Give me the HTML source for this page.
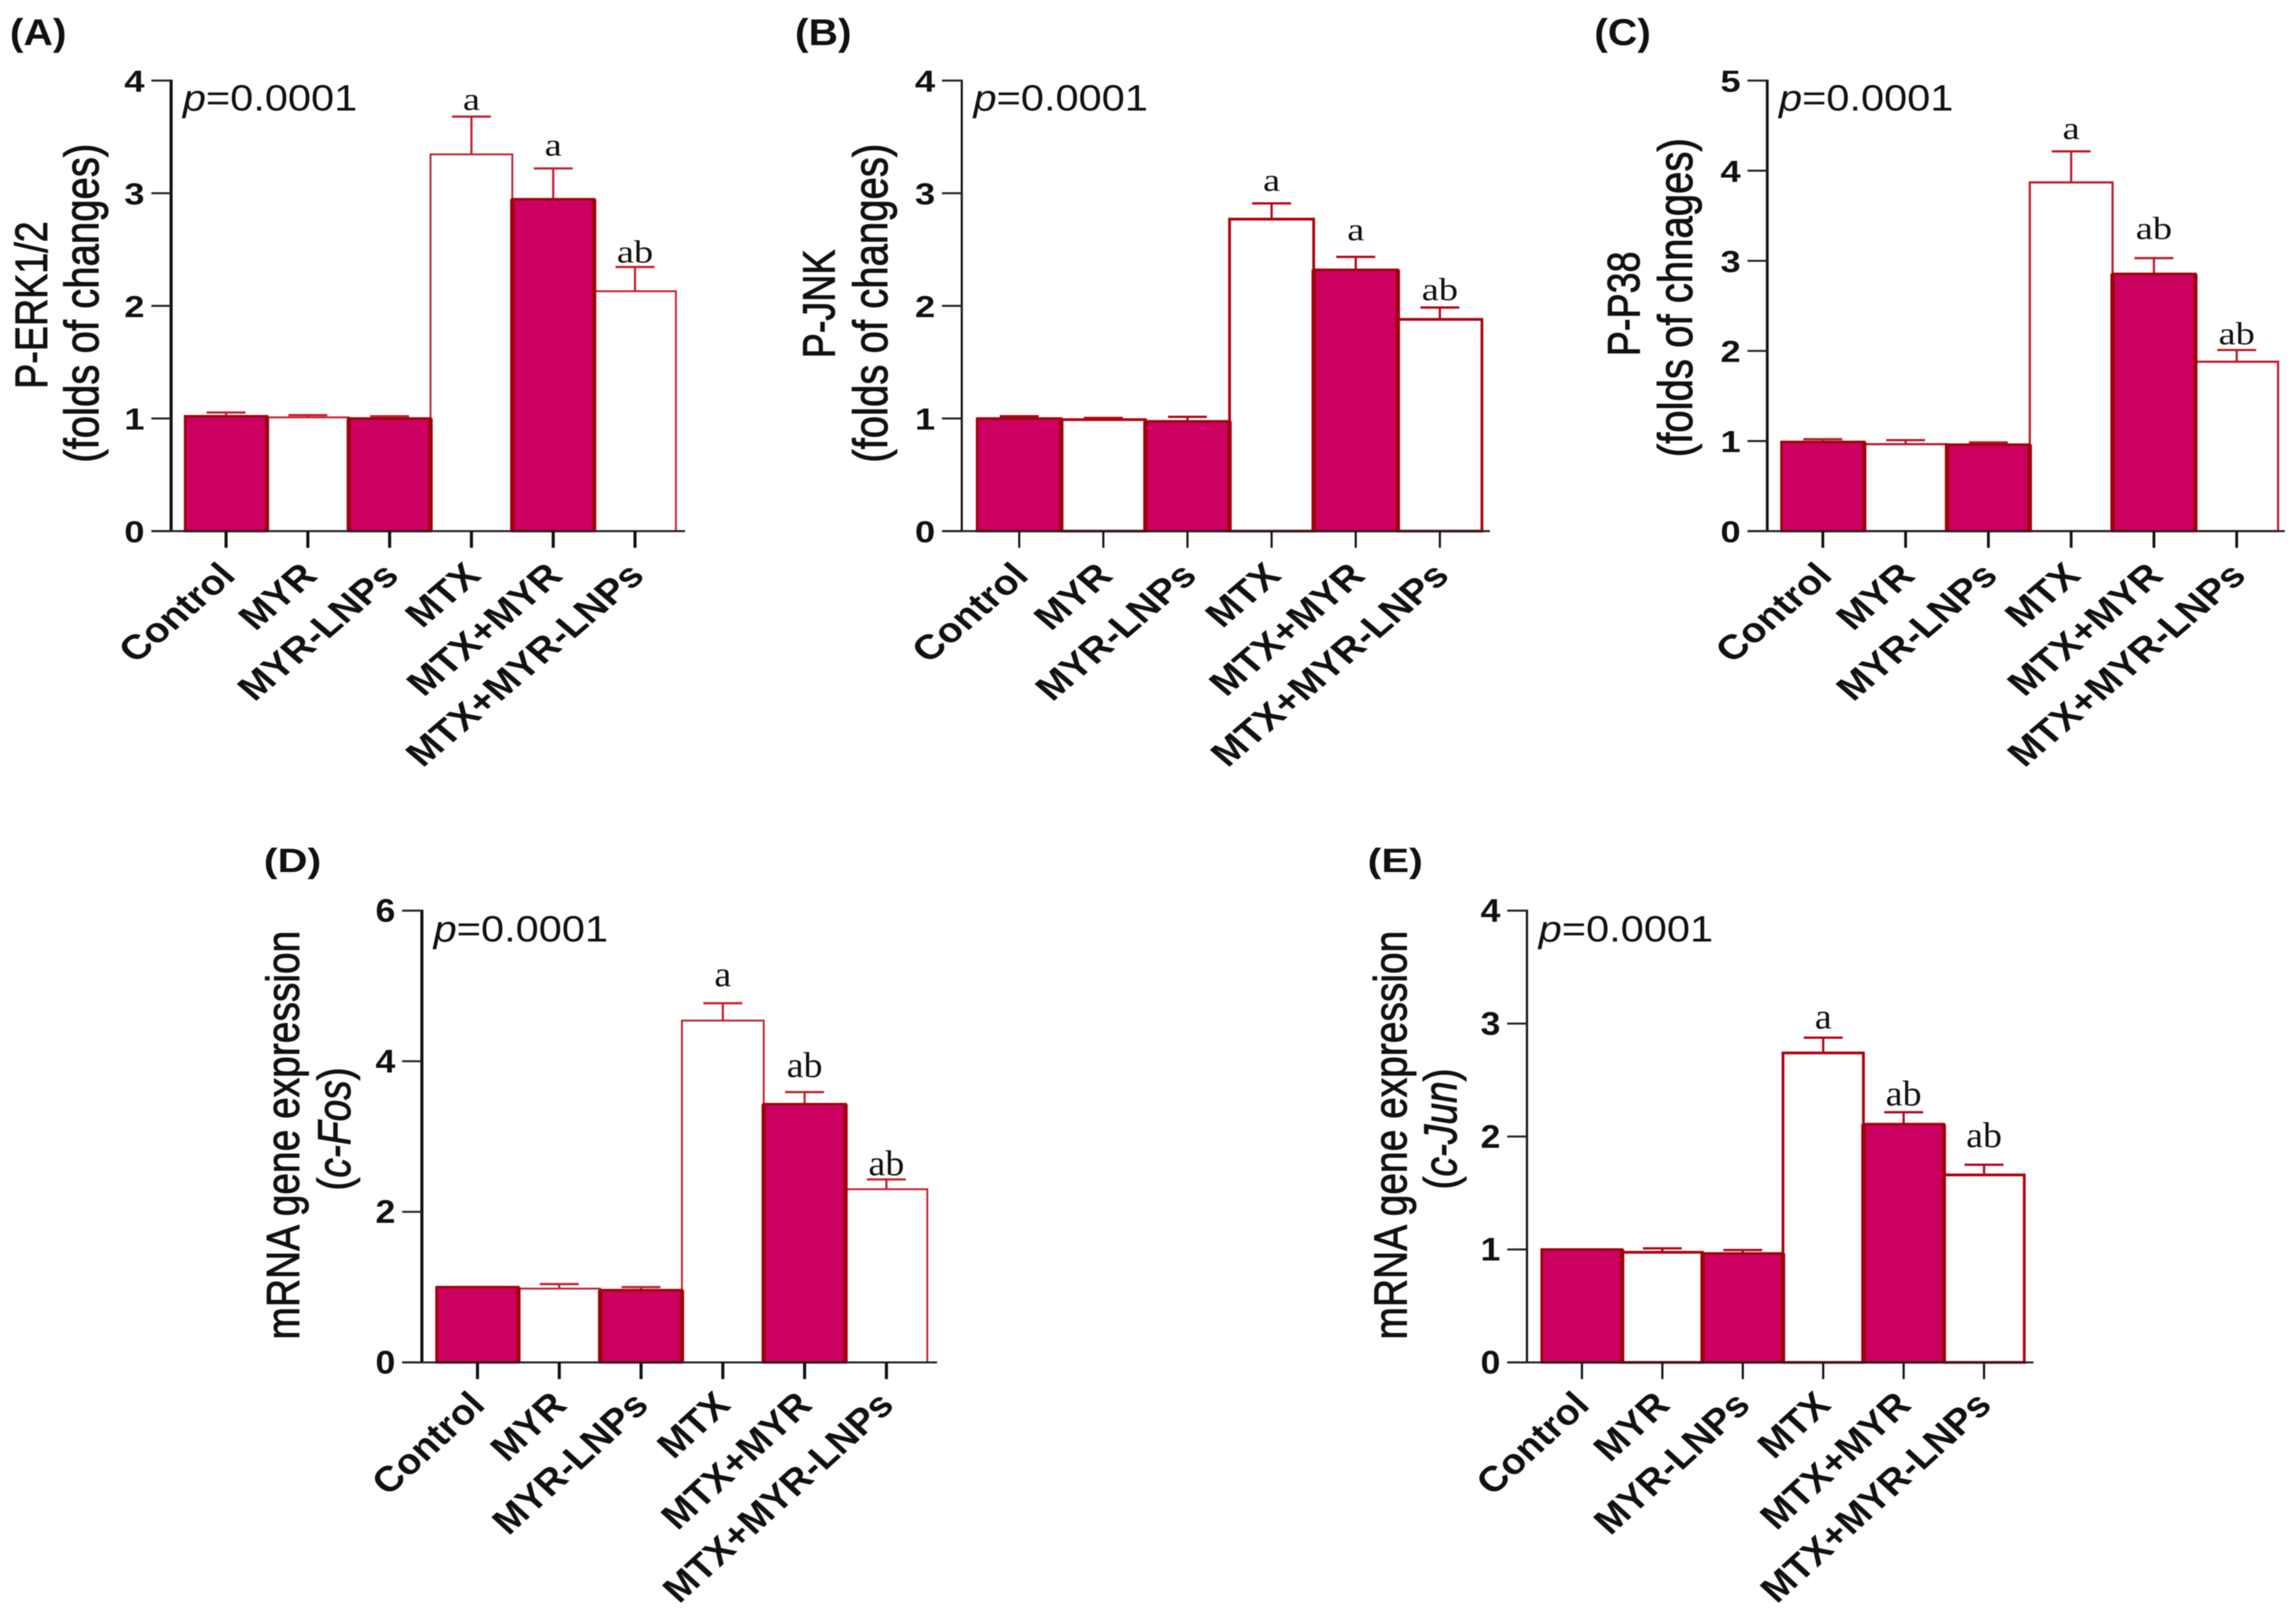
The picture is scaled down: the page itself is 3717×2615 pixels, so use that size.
<!DOCTYPE html>
<html lang="en">
<head>
<meta charset="utf-8">
<title>Five-panel bar charts</title>
<style>
html,body{margin:0;padding:0;background:#fff;width:3717px;height:2615px;overflow:hidden}
svg{display:block;font-family:"Liberation Sans",sans-serif;filter:blur(0.7px)}
</style>
</head>
<body>
<svg id="figure" xmlns="http://www.w3.org/2000/svg" width="3717" height="2615" viewBox="0 0 3717 2615">
<rect width="3717" height="2615" fill="#fff"/>
</svg>
<script>
const categories = ["Control", "MYR", "MYR-LNPs", "MTX", "MTX+MYR", "MTX+MYR-LNPs"];
const barStyles = ["filled", "open", "filled", "open", "filled", "open"];

const ticksA = [0, 1, 2, 3, 4];
const valuesA = [1.02, 1.01, 1.00, 3.345, 2.947, 2.13];
const upperA = [1.053, 1.03, 1.02, 3.68, 3.22, 2.345];
const lettersA = ["", "", "", "a", "a", "ab"];
const letterLiftA = [0, 0, 0, 0.06, 0.115, 0.04];

const ticksB = [0, 1, 2, 3, 4];
const valuesB = [1.00, 0.99, 0.975, 2.77, 2.32, 1.88];
const upperB = [1.02, 1.005, 1.015, 2.91, 2.435, 1.985];
const lettersB = ["", "", "", "a", "a", "ab"];
const letterLiftB = [0, 0, 0, 0.11, 0.148, 0.066];

const ticksC = [0, 1, 2, 3, 4, 5];
const valuesC = [0.99, 0.965, 0.96, 3.87, 2.855, 1.88];
const upperC = [1.02, 1.01, 0.985, 4.215, 3.03, 2.01];
const lettersC = ["", "", "", "a", "ab", "ab"];
const letterLiftC = [0, 0, 0, 0.137, 0.212, 0.065];

const ticksD = [0, 2, 4, 6];
const valuesD = [1.00, 0.98, 0.96, 4.54, 3.43, 2.30];
const upperD = [1.00, 1.04, 1.00, 4.77, 3.59, 2.43];
const lettersD = ["", "", "", "a", "ab", "ab"];
const letterLiftD = [0, 0, 0, 0.226, 0.20, 0.056];

const ticksE = [0, 1, 2, 3, 4];
const valuesE = [1.00, 0.975, 0.965, 2.74, 2.11, 1.66];
const upperE = [1.00, 1.01, 0.995, 2.875, 2.215, 1.75];
const lettersE = ["", "", "", "a", "ab", "ab"];
const letterLiftE = [0, 0, 0, 0.08, 0.06, 0.157];

const NS = "http://www.w3.org/2000/svg";
const svg = document.getElementById("figure");
const FILL = "#cc0060";
const EDGE_DARK = "#a00008";
const INK = "#111";

const upperRowStyle = {
  tickSize: 49, tickStretch: 1.2, tagSize: 60, tagStretch: 1.1,
  labelSize: 56, labelStretch: 1.17, labelDx: 18, labelDy: 75,
  letterSize: 52, letterStretch: 1.2, pSize: 59, pStretch: 1.14, pDy: 48.5, titleStretch: 1.2
};
const lowerRowStyle = {
  tickSize: 53, tickStretch: 1.09, tagSize: 55, tagStretch: 1.22,
  labelSize: 58, labelStretch: 1.095, labelDx: 15, labelDy: 72,
  letterSize: 58, letterStretch: 1.06, pSize: 59, pStretch: 1.14, pDy: 50, titleStretch: 1.2
};

function mk(tag, attrs, parent) {
  const el = document.createElementNS(NS, tag);
  for (const k in attrs) el.setAttribute(k, attrs[k]);
  parent.appendChild(el);
  return el;
}

function drawPanel(p) {
  const s = p.style;
  const group = mk("g", {}, svg);
  
  

  const top = Math.max.apply(null, p.ticks);
  const yScale = v => p.y0 - (v / top) * (p.y0 - p.yTop);
  const xScale = i => p.firstX + i * p.step;

  const letter = mk("text", {
    transform: `translate(${p.tagX},${p.tagY}) scale(${s.tagStretch},1)`,
    "font-size": s.tagSize, "font-weight": "bold", fill: INK
  }, group);
  
  
  letter.textContent = "(" + p.id.toUpperCase() + ")";

  // open bars first, filled bars on top of their neighbours
  const order = [1, 3, 5, 0, 2, 4];
  order.forEach(i => {
    const filled = barStyles[i] === "filled";
    const half = p.step / 2;
    const top = yScale(p.values[i]);
    const err = mk("g", {}, group);
    
    
    const cap = p.openEdge;
    mk("line", { x1: xScale(i), x2: xScale(i), y1: top, y2: yScale(p.upper[i]), stroke: cap, "stroke-width": 3.5 }, err);
    mk("line", { x1: xScale(i) - 31.5, x2: xScale(i) + 31.5, y1: yScale(p.upper[i]), y2: yScale(p.upper[i]), stroke: cap, "stroke-width": 3.6 }, err);

    const bar = mk("rect", {
      x: xScale(i) - half, y: top,
      width: p.step, height: p.y0 - top,
      fill: filled ? FILL : "#fff",
      stroke: filled ? EDGE_DARK : p.openEdge,
      "stroke-width": filled ? 4 : p.openWidth
    }, group);
    
    

    if (filled) {
      const edgeL = mk("line", { x1: xScale(i) - half, x2: xScale(i) - half, y1: top, y2: p.y0, stroke: EDGE_DARK, "stroke-width": i === 0 ? 4 : 7 }, group);
      
      
      const edgeR = mk("line", { x1: xScale(i) + half, x2: xScale(i) + half, y1: top, y2: p.y0, stroke: EDGE_DARK, "stroke-width": 7 }, group);
      
      
    }

    if (p.letters[i]) {
      const lab = mk("text", {
        transform: `translate(${xScale(i)},${yScale(p.upper[i] + p.lift[i])}) scale(${s.letterStretch},1)`,
        "text-anchor": "middle", "font-size": s.letterSize,
        "font-family": '"Liberation Serif",serif', fill: "#111"
      }, group);
      
      
      lab.textContent = p.letters[i];
    }
  });

  const yAxis = mk("line", { x1: p.axisX, x2: p.axisX, y1: p.yTop - 1.5, y2: p.y0 + 1.5, stroke: INK, "stroke-width": p.axisWidth }, group);
  
  

  const xAxis = mk("line", { x1: p.axisX - 32, x2: p.xEnd, y1: p.y0, y2: p.y0, stroke: "#222", "stroke-width": 3.2 }, group);
  
  

  p.ticks.forEach(t => {
    const mark = mk("line", { x1: p.axisX - 32, x2: p.axisX, y1: yScale(t), y2: yScale(t), stroke: "#222", "stroke-width": 3.2 }, group);
    
    
    const lab = mk("text", {
      transform: `translate(${p.axisX - 43},${yScale(t) + 18}) scale(${s.tickStretch},1)`,
      "text-anchor": "end", "font-size": s.tickSize, "font-weight": "bold", fill: INK
    }, group);
    
    
    lab.textContent = String(t);
  });

  categories.forEach((c, i) => {
    const mark = mk("line", { x1: xScale(i), x2: xScale(i), y1: p.y0, y2: p.y0 + 27, stroke: INK, "stroke-width": p.axisWidth }, group);
    
    
    const lab = mk("text", {
      transform: `translate(${xScale(i) + s.labelDx},${p.y0 + s.labelDy}) scale(${s.labelStretch},1) rotate(-45)`,
      "text-anchor": "end", "font-size": s.labelSize, "font-weight": "bold", fill: INK
    }, group);
    
    
    lab.textContent = c;
  });

  const pval = mk("text", {
    transform: `translate(${p.axisX + 19},${p.yTop + s.pDy}) scale(${s.pStretch},1)`,
    "font-size": s.pSize, fill: "#111"
  }, group);
  
  
  const pi = mk("tspan", { "font-style": "italic" }, pval);
  pi.textContent = "p";
  const pr = mk("tspan", {}, pval);
  pr.textContent = "=0.0001";

  p.title.forEach((line, li) => {
    const t = mk("text", {
      transform: `translate(${line.x},${line.y}) scale(${s.titleStretch},1) rotate(-90)`,
      "text-anchor": "middle", "font-size": line.size, fill: "#111",
      stroke: "#111", "stroke-width": 1.2
    }, group);
    
    
    line.parts.forEach(part => {
      const seg = mk("tspan", part[1] ? { "font-style": "italic" } : {}, t);
      seg.textContent = part[0];
    });
  });
}

drawPanel({
  id: "a", style: upperRowStyle, ticks: ticksA, values: valuesA, upper: upperA, letters: lettersA, lift: letterLiftA,
  axisX: 277, axisWidth: 5, openWidth: 3, openEdge: "#c4202f",
  xEnd: 1109, firstX: 366, step: 132.4, yTop: 130.5, y0: 860, tagX: 16, tagY: 73,
  title: [
    { x: 76, y: 494, size: 61, parts: [["P-ERK1/2"]] },
    { x: 159, y: 491, size: 65, parts: [["(folds of changes)"]] }
  ]
});
drawPanel({
  id: "b", style: upperRowStyle, ticks: ticksB, values: valuesB, upper: upperB, letters: lettersB, lift: letterLiftB,
  axisX: 1557, axisWidth: 3.4, openWidth: 4.5, openEdge: "#b00012",
  xEnd: 2412, firstX: 1650, step: 136.2, yTop: 130.5, y0: 860, tagX: 1287, tagY: 73,
  title: [
    { x: 1351, y: 492, size: 61, parts: [["P-JNK"]] },
    { x: 1436, y: 491, size: 65, parts: [["(folds of changes)"]] }
  ]
});
drawPanel({
  id: "c", style: upperRowStyle, ticks: ticksC, values: valuesC, upper: upperC, letters: lettersC, lift: letterLiftC,
  axisX: 2861, axisWidth: 4.5, openWidth: 3.5, openEdge: "#bc1a2a",
  xEnd: 3699, firstX: 2951, step: 134, yTop: 130.5, y0: 860, tagX: 2581, tagY: 73,
  title: [
    { x: 2654, y: 492, size: 61, parts: [["P-P38"]] },
    { x: 2739, y: 482, size: 65, parts: [["(folds of chnages)"]] }
  ]
});
drawPanel({
  id: "d", style: lowerRowStyle, ticks: ticksD, values: valuesD, upper: upperD, letters: lettersD, lift: letterLiftD,
  axisX: 683, axisWidth: 5, openWidth: 3, openEdge: "#c4202f",
  xEnd: 1517, firstX: 773, step: 132.4, yTop: 1474.5, y0: 2206, tagX: 427, tagY: 1412,
  title: [
    { x: 484, y: 1838, size: 63, parts: [["mRNA gene expression"]] },
    { x: 567, y: 1828, size: 63, parts: [["("], ["c-Fos", true], [")"]] }
  ]
});
drawPanel({
  id: "e", style: lowerRowStyle, ticks: ticksE, values: valuesE, upper: upperE, letters: lettersE, lift: letterLiftE,
  axisX: 2472, axisWidth: 3.5, openWidth: 4.5, openEdge: "#b00012",
  xEnd: 3292, firstX: 2561, step: 130.2, yTop: 1474.5, y0: 2206, tagX: 2214, tagY: 1412,
  title: [
    { x: 2277, y: 1838, size: 63, parts: [["mRNA gene expression"]] },
    { x: 2358, y: 1828, size: 63, parts: [["("], ["c-Jun", true], [")"]] }
  ]
});
</script>
</body>
</html>
